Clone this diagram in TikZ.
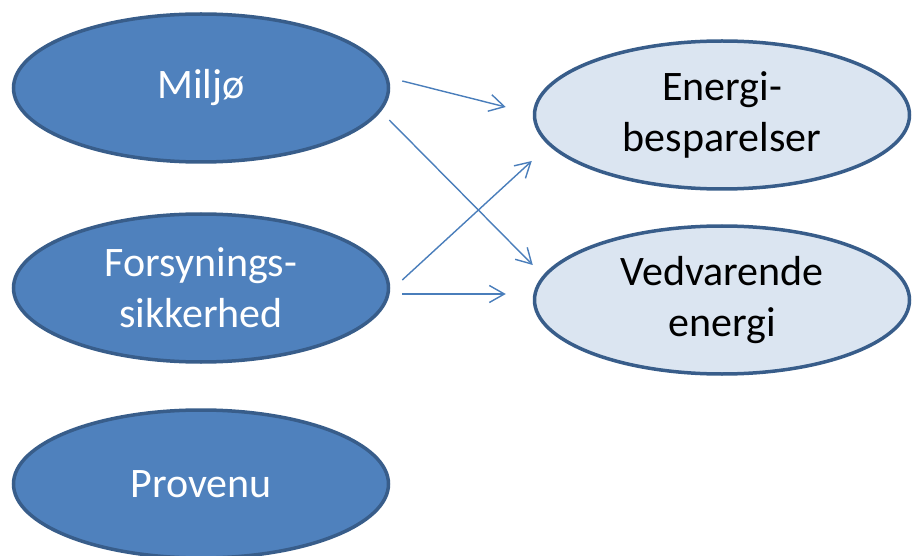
\documentclass[tikz,border=0pt]{standalone}
\usepackage{fontspec}
\setmainfont{Carlito}
\usetikzlibrary{shapes.geometric,arrows.meta,calc}
\definecolor{darkfill}{HTML}{4F81BD}
\definecolor{edgeblue}{HTML}{385D8A}
\definecolor{lightfill}{HTML}{DBE5F1}
\definecolor{arrowblue}{HTML}{4A7EBB}
\tikzset{
  oval/.style={ellipse, draw=edgeblue, line width=3.5pt, minimum width=375pt, minimum height=148pt, inner sep=0pt, align=center, font=\fontsize{42}{51}\selectfont},
  darkoval/.style={oval, fill=darkfill, text=white},
  lightoval/.style={oval, fill=lightfill, text=black},
  arr/.style={draw=arrowblue, line width=1.4pt, -{Straight Barb[length=15pt,width=17pt,line width=1.4pt]}}
}
\begin{document}
\begin{tikzpicture}[x=1pt,y=-1pt]
\useasboundingbox (0,0) rectangle (913,556);
\node[darkoval] (m) at (201,88) {Milj\o};
\node[darkoval] (f) at (201,288) {Forsynings-\\sikkerhed};
\node[darkoval] (p) at (201,484) {Provenu};
\node[lightoval] (e) at (722,115) {Energi-\\besparelser};
\node[lightoval] (v) at (722,300) {Vedvarende\\energi};
\draw[arr] ($(m.east)+(12,-7)$) -- ($(e.west)+(-27,-8)$);
\draw[arr] ($(m.east)+(-1,32)$) -- ($(v.west)+(0,-35)$);
\draw[arr] ($(f.east)+(12,-8)$) -- ($(e.west)+(-1,46)$);
\draw[arr] ($(f.east)+(12,6)$) -- ($(v.west)+(-27,-6)$);
\end{tikzpicture}
\end{document}
